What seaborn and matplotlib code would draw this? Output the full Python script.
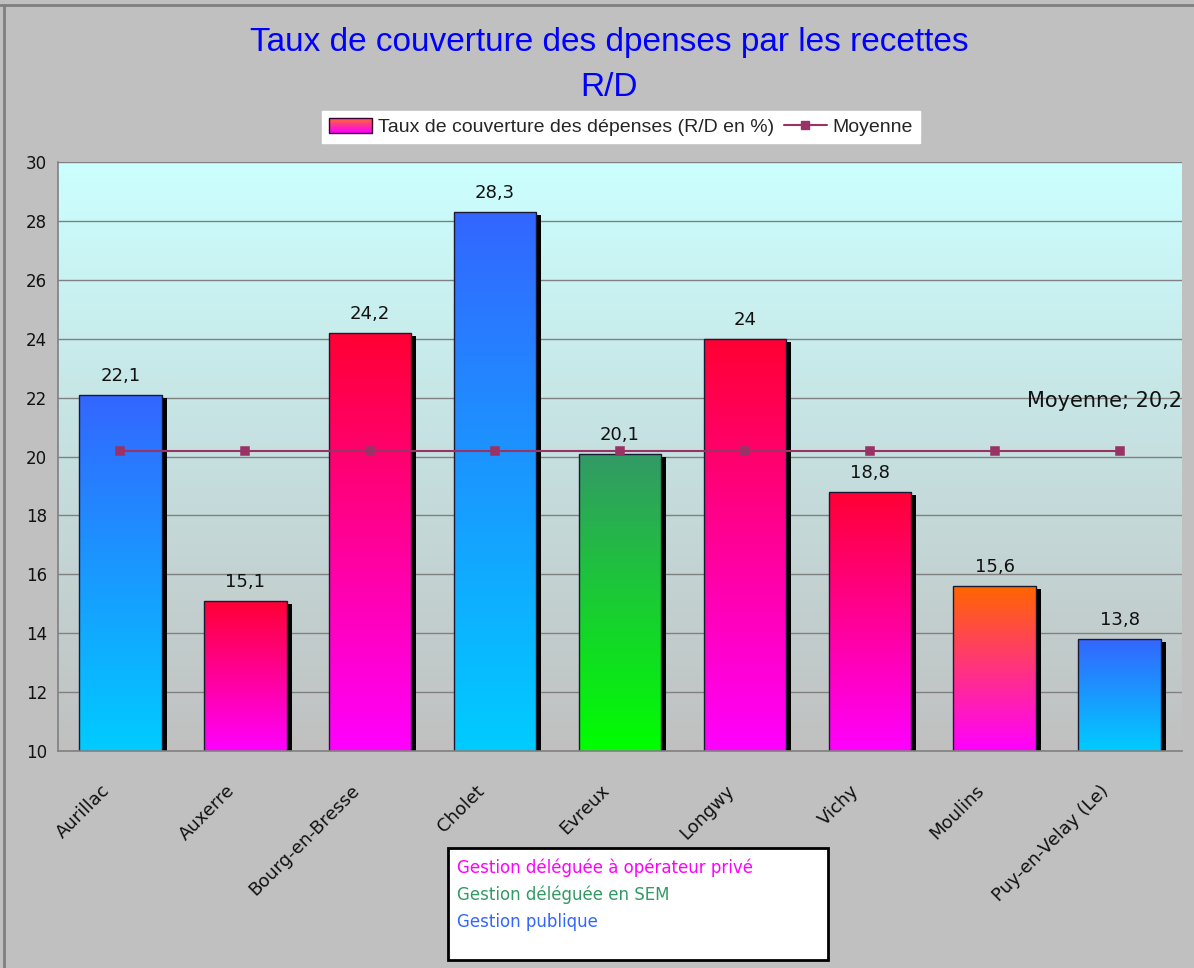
import numpy as np
import matplotlib
matplotlib.use("Agg")
import matplotlib.pyplot as plt
import matplotlib.transforms as mtransforms
from matplotlib.colors import to_rgb
from matplotlib.patches import Rectangle
from matplotlib.lines import Line2D
from matplotlib.legend_handler import HandlerBase
import seaborn as sns

# --- data -------------------------------------------------------------
villes = ["Aurillac", "Auxerre", "Bourg-en-Bresse", "Cholet", "Evreux",
          "Longwy", "Vichy", "Moulins", "Puy-en-Velay (Le)"]
taux = [22.1, 15.1, 24.2, 28.3, 20.1, 24.0, 18.8, 15.6, 13.8]
moyenne = [20.2, 20.2, 20.2, 20.2, 20.2, 20.2, 20.2, 20.2, 20.2]
gestion = ["publique", "privee", "privee", "publique", "sem",
           "privee", "privee", "privee", "publique"]
yticks = [10, 12, 14, 16, 18, 20, 22, 24, 26, 28, 30]
legende_gestion = ["Gestion déléguée à opérateur privé",
                   "Gestion déléguée en SEM",
                   "Gestion publique"]

# --- styles -----------------------------------------------------------
degrades = {  # (top colour, bottom colour)
    "publique": ("#3366FF", "#00CCFF"),
    "privee": ("#FF0033", "#FF00FF"),
    "sem": ("#339966", "#00FF00"),
}
degrade_special = {"Moulins": ("#FF6600", "#FF00FF")}
couleurs_gestion = ["#FF00FF", "#339966", "#3366FF"]

sns.set_style("white")
plt.rcParams["font.family"] = ["DejaVu Sans"]
NARROW = ["Liberation Sans", "DejaVu Sans"]


def gradient(top, bottom, n=256):
    t = np.linspace(0, 1, n)[:, None, None]
    return np.array(to_rgb(top)) * (1 - t) + np.array(to_rgb(bottom)) * t


class GradientHandler(HandlerBase):
    """Legend key drawn as a small vertical colour gradient."""

    def create_artists(self, legend, orig_handle, xdescent, ydescent,
                       width, height, fontsize, trans):
        cols = gradient("#FF6633", "#FF00FF", 8)[:, 0, :]
        arts = []
        n = len(cols)
        for i, c in enumerate(cols):
            y = -ydescent + height * (1 - (i + 1) / n)
            arts.append(Rectangle((-xdescent, y), width, height / n,
                                  facecolor=c, edgecolor="none", transform=trans))
        arts.append(Rectangle((-xdescent, -ydescent), width, height,
                              facecolor="none", edgecolor="#330033",
                              linewidth=1, transform=trans))
        return arts


fig = plt.figure(figsize=(11.94, 9.68), dpi=100, facecolor="#C0C0C0")
ax = fig.add_axes([58 / 1194, 1 - 751 / 968, (1182 - 58) / 1194, (751 - 162) / 968])

sns.barplot(x=villes, y=taux, hue=villes, palette=["#FFFFFF"] * len(villes),
            legend=False, width=0.66, ax=ax, zorder=2,
            edgecolor="#1A1A33", linewidth=1.0)

xlim = (-0.5, len(villes) - 0.5)

# plot-area background: light cyan fading to grey
ax.imshow(gradient("#CCFFFF", "#C0C0C0"), extent=[xlim[0], xlim[1], 10, 30],
          aspect="auto", zorder=0, origin="upper")

# gradient fill + drop shadow for each bar
shadow_tr = ax.transData + mtransforms.ScaledTranslation(5 / 100, -3 / 100, fig.dpi_scale_trans)
for ville, g, p in zip(villes, gestion, list(ax.patches)):
    x0, w, h = p.get_x(), p.get_width(), p.get_height()
    haut, bas = degrade_special.get(ville, degrades[g])
    im = ax.imshow(gradient(haut, bas), extent=[x0, x0 + w, 10, h],
                   aspect="auto", zorder=2.05, origin="upper")
    im.set_clip_path(p)
    p.set_facecolor("none")
    p.set_zorder(2.1)
    ax.add_patch(Rectangle((x0, 0), w, h, transform=shadow_tr,
                           facecolor="black", edgecolor="none", zorder=1.5))
ax.set_xlim(*xlim)
ax.set_ylim(10, 30)

# value labels
for c in ax.containers:
    ax.bar_label(c, labels=[f"{v:g}".replace(".", ",") for v in c.datavalues],
                 padding=7, fontsize=13, color="#111111", zorder=4)

# average line
sns.pointplot(x=villes, y=moyenne, color="#993366", marker="s", markersize=6,
              linewidth=1.5, errorbar=None, ax=ax, zorder=3)
ax.text(xlim[1], moyenne[-1] + 1.7, f"Moyenne; {moyenne[-1]:g}".replace(".", ","),
        ha="right", va="center", fontsize=15, color="#111111", zorder=4)
ax.set_xlim(*xlim)
ax.set_ylim(10, 30)

# axes cosmetics
ax.set_yticks(yticks)
ax.yaxis.grid(True, color="#808080", linewidth=1)
ax.set_axisbelow(True)
for s in ["top", "right"]:
    ax.spines[s].set_visible(False)
for s in ["left", "bottom"]:
    ax.spines[s].set_color("#808080")
    ax.spines[s].set_linewidth(1.2)
ax.tick_params(axis="y", length=0, pad=8, labelsize=12, labelcolor="#111111")
ax.tick_params(axis="x", length=0, pad=4, labelsize=13, labelcolor="#111111")
lbl_shift = mtransforms.ScaledTranslation(-20 / 100, -25 / 100, fig.dpi_scale_trans)
for lbl in ax.get_xticklabels():
    lbl.set_rotation(45)
    lbl.set_ha("right")
    lbl.set_va("top")
    lbl.set_rotation_mode("anchor")
    lbl.set_transform(lbl.get_transform() + lbl_shift)
ax.set_xlabel("")
ax.set_ylabel("")

# title
fig.text(609 / 1194, 1 - 42 / 968, "Taux de couverture des dpenses par les recettes",
         ha="center", va="center", fontsize=24, color="#0000FF", family=NARROW)
fig.text(609 / 1194, 1 - 88 / 968, "R/D", ha="center", va="center",
         fontsize=24, color="#0000FF", family=NARROW)

# series legend
handles = [Rectangle((0, 0), 1, 1),
           Line2D([], [], color="#993366", marker="s", markersize=6, linewidth=1.5)]
leg = fig.legend(handles, ["Taux de couverture des dépenses (R/D en %)", "Moyenne"],
                 handler_map={Rectangle: GradientHandler()},
                 loc="center", bbox_to_anchor=(621 / 1194, 1 - 127 / 968), ncol=2,
                 frameon=True, fancybox=False, framealpha=1, edgecolor="white",
                 facecolor="white", prop={"family": NARROW, "size": 14},
                 handlelength=2.2, handleheight=0.8, handletextpad=0.3,
                 columnspacing=0.5, borderpad=0.35)

# management-type key
box = Rectangle((448 / 1194, 1 - 960 / 968), (828 - 448) / 1194, (960 - 848) / 968,
                transform=fig.transFigure, facecolor="white", edgecolor="black",
                linewidth=2, zorder=5)
fig.add_artist(box)
for i, (txt, col) in enumerate(zip(legende_gestion, couleurs_gestion)):
    fig.text(457 / 1194, 1 - (868 + 27 * i) / 968, txt, ha="left", va="center",
             fontsize=12, color=col, zorder=6)

# outer frame lines
fig.add_artist(Line2D([0, 1], [1 - 5 / 968] * 2, transform=fig.transFigure,
                      color="#808080", linewidth=2))
fig.add_artist(Line2D([4 / 1194] * 2, [0, 1 - 5 / 968], transform=fig.transFigure,
                      color="#808080", linewidth=2))

fig.savefig("out.png", dpi=100, facecolor=fig.get_facecolor())
